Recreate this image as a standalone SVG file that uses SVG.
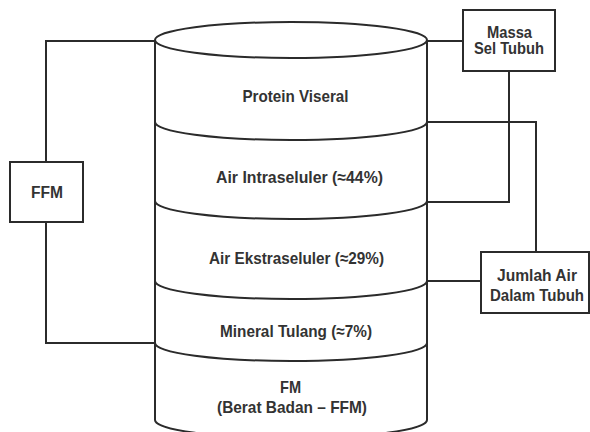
<svg xmlns="http://www.w3.org/2000/svg" width="590" height="432" viewBox="0 0 590 432">
<style>
.ln{fill:none;stroke:#2b2b2b;stroke-width:2}
.bx{fill:#fff;stroke:#2b2b2b;stroke-width:2}
.t{font-family:"Liberation Sans",Arial,sans-serif;font-weight:bold;font-size:17px;fill:#333;text-anchor:middle}
.s{font-size:16px}
</style>
<rect width="590" height="432" fill="#fff"/>
<g id="cylinder">
<path class="ln" d="M155,40 V420 M427,40 V420"/>
<ellipse class="ln" cx="291" cy="40" rx="136" ry="18"/>
<path class="ln" d="M155,122 A136 18 0 0 0 427,122"/>
<path class="ln" d="M155,201 A136 18 0 0 0 427,201"/>
<path class="ln" d="M155,281 A136 18 0 0 0 427,281"/>
<path class="ln" d="M155,343 A136 18 0 0 0 427,343"/>
<path class="ln" d="M155,420 A136 18 0 0 0 427,420"/>
</g>
<g id="layer-protein"><text class="t" x="295.5" y="102" textLength="106" lengthAdjust="spacingAndGlyphs">Protein Viseral</text></g>
<g id="layer-intra"><text class="t" x="299.5" y="183" textLength="167" lengthAdjust="spacingAndGlyphs">Air Intraseluler (≈44%)</text></g>
<g id="layer-ekstra"><text class="t" x="296.5" y="264" textLength="175" lengthAdjust="spacingAndGlyphs">Air Ekstraseluler (≈29%)</text></g>
<g id="layer-mineral"><text class="t" x="296" y="337" textLength="152" lengthAdjust="spacingAndGlyphs">Mineral Tulang (≈7%)</text></g>
<g id="layer-fm"><text class="t" x="290.5" y="393" textLength="21" lengthAdjust="spacingAndGlyphs">FM</text><text class="t" x="292" y="413" textLength="150" lengthAdjust="spacingAndGlyphs">(Berat Badan – FFM)</text></g>
<g id="connectors">
<path class="ln" d="M46,162 V41 H155"/>
<path class="ln" d="M46,222 V343 H155"/>
<path class="ln" d="M463,41 H427"/>
<path class="ln" d="M509,71 V202 H427"/>
<path class="ln" d="M536,252 V122 H427"/>
<path class="ln" d="M481,281 H427"/>
</g>
<g id="ffm">
<rect class="bx" x="10" y="162" width="73" height="60"/>
<text class="t s" x="47" y="198" textLength="32" lengthAdjust="spacingAndGlyphs">FFM</text>
</g>
<g id="massa-sel-tubuh">
<rect class="bx" x="463" y="10" width="92" height="61"/>
<text class="t s" x="509.5" y="38" textLength="45" lengthAdjust="spacingAndGlyphs">Massa</text>
<text class="t s" x="509" y="54" textLength="70" lengthAdjust="spacingAndGlyphs">Sel Tubuh</text>
</g>
<g id="jumlah-air">
<rect class="bx" x="481" y="252" width="108" height="61"/>
<text class="t s" x="537" y="281" textLength="80" lengthAdjust="spacingAndGlyphs">Jumlah Air</text>
<text class="t s" x="537" y="301" textLength="94" lengthAdjust="spacingAndGlyphs">Dalam Tubuh</text>
</g>
</svg>
